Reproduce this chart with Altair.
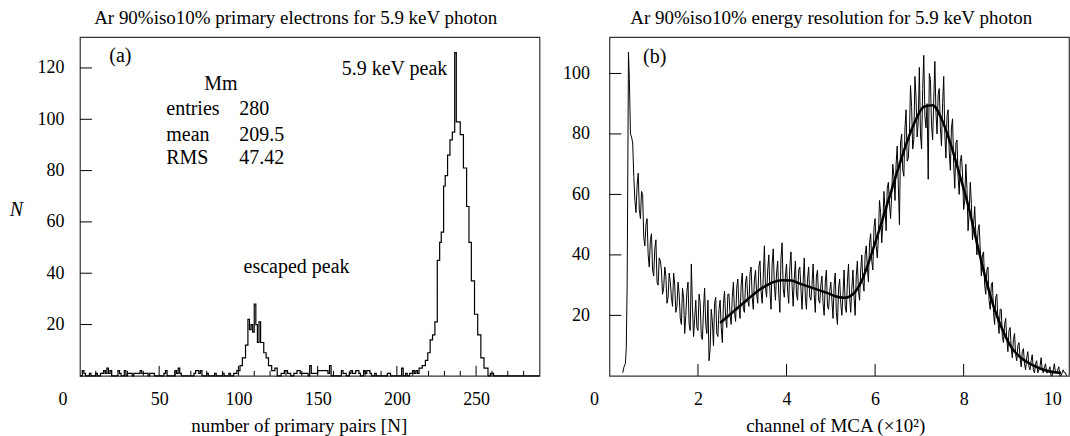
import altair as alt
import pandas as pd

FONT = "Liberation Serif"

# ---------------- panel (a): histogram of primary pairs (bin edge -> count, step) -------------
hist_edges = [0, 1.5, 2.5, 3.5, 6, 7, 10, 11, 13, 15, 16, 17, 18, 19, 20, 24, 25, 26, 28, 29,
              30, 33, 34, 38, 39, 43, 44, 47, 53, 54, 55, 60, 61, 62, 63, 64, 72, 73, 75, 76,
              77, 80, 81, 85, 86, 90, 91, 94, 95, 97, 99, 101, 102.5, 104.5, 106, 107, 108, 109, 110, 111,
              112, 113, 114, 116, 117.5, 119, 121, 123, 124.5, 127, 129, 131, 133, 135, 137, 139, 144, 145, 146, 150,
              156.5, 157.5, 158.5, 165, 166, 168, 170, 171, 172, 174, 176, 177, 179, 180, 181, 183, 184, 186, 187, 194,
              196, 203, 204, 205.5, 206.5, 208, 210, 211, 212, 213, 214, 216, 218, 219.5, 221, 222.5, 224, 225.5, 227, 228,
              229.5, 230.5, 232, 233.5, 235, 236.5, 237.5, 240, 242, 244, 245.5, 247, 249, 251, 253, 255, 257.5, 259, 261, 290]
hist_counts = [0, 2, 1, 0, 1, 0, 1, 0, 1, 2, 1, 3, 1, 2, 0, 2, 1, 0, 2, 0,
               1, 0, 1, 2, 1, 0, 1, 0, 1, 2, 0, 2, 1, 3, 1, 0, 1, 2, 1, 2,
               0, 1, 0, 1, 0, 1, 0, 1, 0, 1, 2, 4, 7, 12, 22, 18, 20, 17, 28, 20,
               13, 21, 13, 9, 7, 4, 2, 3, 0, 1, 2, 1, 0, 1, 2, 1, 0, 4, 1, 2,
               1, 4, 0, 2, 1, 0, 1, 2, 1, 2, 1, 0, 2, 1, 2, 1, 0, 1, 0, 1,
               0, 3, 0, 1, 0, 1, 2, 1, 2, 1, 3, 4, 6, 9, 14, 16, 21, 45, 52, 56,
               74, 78, 86, 92, 95, 126, 99, 94, 81, 66, 52, 37, 24, 16, 7, 3, 0, 1, 0, 0]
assert len(hist_edges) == len(hist_counts)

a_xticks_major = [50, 100, 150, 200, 250]
a_xticks_minor = [10, 20, 30, 40, 60, 70, 80, 90, 110, 120, 130, 140, 160, 170, 180, 190,
                  210, 220, 230, 240, 260, 270, 280]
a_yticks = [20, 40, 60, 80, 100, 120]
a_xlabels = [0, 50, 100, 150, 200, 250]

# ---------------- panel (b): MCA spectrum and fit ----------------
mca_head_x = [0.30, 0.33, 0.36, 0.38, 0.40, 0.42, 0.43]
mca_head_y = [1, 3, 4, 9, 30, 80, 107]
mca_step = 0.05
mca_start_a = 0.45    # channel grid (x10^2) for mca_ya
mca_start_b = 0.475   # interleaved channel grid for mca_yb
mca_ya = [98, 79, 66, 54, 67, 52, 60, 43, 52, 36, 47, 33, 45, 30, 38, 27, 36, 24, 34, 26,
          34, 21, 31, 19, 29, 14, 28, 17, 37, 13, 25, 15, 24, 12, 29, 14, 5, 22, 10, 26,
          13, 25, 11, 28, 16, 27, 17, 31, 18, 32, 19, 34, 21, 33, 23, 36, 22, 35, 24, 38,
          24, 43, 26, 40, 22, 42, 25, 38, 21, 44, 26, 37, 24, 41, 23, 38, 25, 36, 22, 39,
          22, 36, 25, 37, 21, 35, 24, 33, 20, 35, 22, 31, 19, 34, 17, 32, 20, 35, 21, 37,
          21, 35, 20, 38, 25, 40, 28, 43, 31, 47, 35, 52, 39, 58, 44, 61, 48, 64, 52, 70,
          58, 76, 50, 80, 66, 88, 72, 96, 75, 99, 79, 102, 75, 106, 82, 65, 98, 78, 104, 80,
          95, 76, 99, 72, 88, 68, 85, 62, 78, 60, 73, 55, 70, 48, 64, 45, 56, 40, 50, 33,
          41, 27, 36, 22, 31, 17, 27, 14, 22, 11, 19, 8, 16, 6, 14, 5, 11, 3, 9, 2,
          8, 2, 7, 1, 5, 2, 6, 1, 4, 1, 3, 0, 4, 1, 3, 0, 2, 1]
mca_yb = [80, 77, 58, 63, 55, 61, 46, 50, 40, 45, 35, 42, 31, 39, 35, 29, 33, 26, 31, 23,
          30, 23, 27, 17, 26, 20, 31, 15, 23, 19, 16, 27, 13, 22, 17, 25, 9, 18, 24, 14,
          22, 16, 24, 19, 27, 20, 26, 21, 29, 23, 30, 22, 31, 25, 34, 26, 32, 27, 36, 28,
          33, 29, 35, 28, 37, 30, 34, 27, 39, 29, 33, 28, 36, 30, 32, 27, 35, 29, 31, 26,
          32, 26, 30, 27, 33, 25, 30, 24, 31, 23, 28, 25, 30, 21, 29, 24, 27, 23, 31, 26,
          29, 26, 33, 28, 35, 31, 40, 36, 44, 38, 49, 43, 46, 54, 50, 55, 62, 57, 60, 66,
          70, 63, 77, 68, 82, 71, 79, 89, 78, 92, 84, 80, 95, 86, 90, 100, 83, 91, 87, 93,
          82, 90, 80, 86, 74, 82, 70, 77, 66, 71, 67, 58, 62, 54, 57, 50, 47, 48, 42, 40,
          30, 35, 25, 30, 21, 26, 18, 22, 13, 17, 12, 15, 9, 12, 7, 10, 6, 8, 4, 6,
          3, 5, 2, 4, 1, 3, 2, 3, 1, 2, 0, 2, 1, 2, 0, 1, 1, 0]
assert len(mca_ya) == len(mca_yb)
fit_x = [2.5, 2.7, 2.9, 3.1, 3.3, 3.5, 3.7, 3.9, 4.1, 4.3, 4.5, 4.7, 4.9, 5.1, 5.3, 5.5, 5.7, 5.9, 6.1, 6.3,
         6.5, 6.7, 6.9, 7.1, 7.3, 7.5, 7.7, 7.9, 8.1, 8.3, 8.5, 8.7, 8.9, 9.1, 9.3, 9.5, 9.7, 9.9, 10.1, 10.2]
fit_y = [17.5, 20, 22.5, 25, 27.5, 29.5, 31, 31.6, 31.5, 30.5, 29.5, 28.5, 27.5, 26.3, 25.8, 27, 31.5, 39.5, 48.5, 58,
         67.5, 76.5, 84, 89, 89.5, 85, 77, 67, 56.5, 44, 32, 22, 14.5, 9, 5.9, 4, 2.6, 1.6, 1.1, 1]
b_xticks = [2, 4, 6, 8]
b_yticks = [20, 40, 60, 80, 100]
b_xlabels = [0, 2, 4, 6, 8, 10]

W, H = 460, 339

# ---------------- panel (a) ----------------
xa = alt.Scale(domain=[0, 290], nice=False, zero=False)
ya = alt.Scale(domain=[0, 132], nice=False)
ax_a_x = alt.Axis(
    values=a_xlabels, ticks=False, tickSize=0, domain=False, grid=False,
    labelFont=FONT, labelFontSize=18, labelColor="black", labelPadding=15,
    labelOffset={"condition": {"test": "datum.value == 0", "value": -22}, "value": 0},
    title="number of primary pairs [N]", titleFont=FONT, titleFontSize=19,
    titleFontWeight="normal", titleColor="black", titlePadding=8, titleX=219)
ax_a_y = alt.Axis(
    values=a_yticks, ticks=False, tickSize=0, domain=False, grid=False,
    labelFont=FONT, labelFontSize=18, labelColor="black", labelPadding=16,
    title="N", titleFont=FONT, titleFontSize=20, titleFontStyle="italic",
    titleFontWeight="normal", titleColor="black", titleAngle=0, titleX=-64, titleY=172,
    titleAlign="center", titleBaseline="middle")


def xa_enc(f):
    return alt.X(f, scale=xa, axis=ax_a_x)


def ya_enc(f):
    return alt.Y(f, scale=ya, axis=ax_a_y)


hist_df = pd.DataFrame({"x": hist_edges, "y": hist_counts})
hist = alt.Chart(hist_df).mark_line(interpolate="step-after", color="black", strokeWidth=1.2).encode(
    x=xa_enc("x:Q"), y=ya_enc("y:Q"))

tick_major_a = alt.Chart(pd.DataFrame({"x": a_xticks_major})).mark_rule(color="black", strokeWidth=1).encode(
    x=xa_enc("x:Q"), y=alt.value(H), y2=alt.value(H - 10))
tick_minor_a = alt.Chart(pd.DataFrame({"x": a_xticks_minor})).mark_rule(color="black", strokeWidth=1).encode(
    x=xa_enc("x:Q"), y=alt.value(H), y2=alt.value(H - 5))
ytick_a = alt.Chart(pd.DataFrame({"y": a_yticks})).mark_rule(color="black", strokeWidth=1).encode(
    y=ya_enc("y:Q"), x=alt.value(0), x2=alt.value(12))

ann_left_a = pd.DataFrame({
    "x": [18.5, 54.5, 54.5, 54.5, 100.5, 100.5, 100.5],
    "y": [124.6, 104, 94, 84.8, 104, 94, 84.8],
    "t": ["(a)", "entries", "mean", "RMS", "280", "209.5", "47.42"],
})
ann_center_a = pd.DataFrame({
    "x": [89, 198.5, 136.7],
    "y": [113.7, 119.5, 42.6],
    "t": ["Mm", "5.9 keV peak", "escaped peak"],
})
txt_left_a = alt.Chart(ann_left_a).mark_text(font=FONT, fontSize=20, align="left", baseline="middle", color="black").encode(
    x=xa_enc("x:Q"), y=ya_enc("y:Q"), text="t:N")
txt_center_a = alt.Chart(ann_center_a).mark_text(font=FONT, fontSize=20, align="center", baseline="middle", color="black").encode(
    x=xa_enc("x:Q"), y=ya_enc("y:Q"), text="t:N")

panel_a = alt.layer(hist, tick_major_a, tick_minor_a, ytick_a, txt_left_a, txt_center_a).properties(
    width=W, height=H,
    title=alt.TitleParams("Ar 90%iso10% primary electrons for 5.9 keV photon", font=FONT, fontSize=19,
                          fontWeight="normal", color="black", dx=-14, offset=9))

# ---------------- panel (b) ----------------
xb = alt.Scale(domain=[0, 10.38], nice=False, zero=False)
yb = alt.Scale(domain=[0, 112], nice=False)
ax_b_x = alt.Axis(
    values=b_xlabels, ticks=False, tickSize=0, domain=False, grid=False,
    labelFont=FONT, labelFontSize=18, labelColor="black", labelPadding=15,
    labelOffset={"condition": {"test": "datum.value == 0", "value": -20}, "value": 0},
    title="channel of MCA  (×10²)", titleFont=FONT, titleFontSize=19,
    titleFontWeight="normal", titleColor="black", titlePadding=8, titleX=226)
ax_b_y = alt.Axis(
    values=b_yticks, ticks=False, tickSize=0, domain=False, grid=False,
    labelFont=FONT, labelFontSize=18, labelColor="black", labelPadding=20, title=None)


def xb_enc(f):
    return alt.X(f, scale=xb, axis=ax_b_x)


def yb_enc(f):
    return alt.Y(f, scale=yb, axis=ax_b_y)


mca_x = (mca_head_x
         + [round(mca_start_a + mca_step * i, 3) for i in range(len(mca_ya))]
         + [round(mca_start_b + mca_step * i, 3) for i in range(len(mca_yb))])
mca_df = pd.DataFrame({"x": mca_x, "y": mca_head_y + mca_ya + mca_yb}).sort_values("x")
mca = alt.Chart(mca_df).mark_line(color="black", strokeWidth=1).encode(x=xb_enc("x:Q"), y=yb_enc("y:Q"))
fit = alt.Chart(pd.DataFrame({"x": fit_x, "y": fit_y})).mark_line(
    color="black", strokeWidth=2.5, interpolate="monotone").encode(x=xb_enc("x:Q"), y=yb_enc("y:Q"))
xtick_b = alt.Chart(pd.DataFrame({"x": b_xticks})).mark_rule(color="black", strokeWidth=1).encode(
    x=xb_enc("x:Q"), y=alt.value(H), y2=alt.value(H - 12))
ytick_b = alt.Chart(pd.DataFrame({"y": b_yticks})).mark_rule(color="black", strokeWidth=1).encode(
    y=yb_enc("y:Q"), x=alt.value(0), x2=alt.value(12))
txt_b = alt.Chart(pd.DataFrame({"x": [0.76], "y": [105.6], "t": ["(b)"]})).mark_text(
    font=FONT, fontSize=20, align="left", baseline="middle", color="black").encode(
    x=xb_enc("x:Q"), y=yb_enc("y:Q"), text="t:N")

panel_b = alt.layer(mca, fit, xtick_b, ytick_b, txt_b).properties(
    width=W, height=H,
    title=alt.TitleParams("Ar 90%iso10% energy resolution for 5.9 keV photon", font=FONT, fontSize=19,
                          fontWeight="normal", color="black", dx=-8, offset=9))

chart = alt.hconcat(panel_a, panel_b, spacing=19).properties(
    padding={"left": 8, "top": 8, "right": 0, "bottom": 0}
).configure_view(stroke="#333333", strokeWidth=1.2)

chart.save("out.html", embed_options={"renderer": "svg", "actions": False})
